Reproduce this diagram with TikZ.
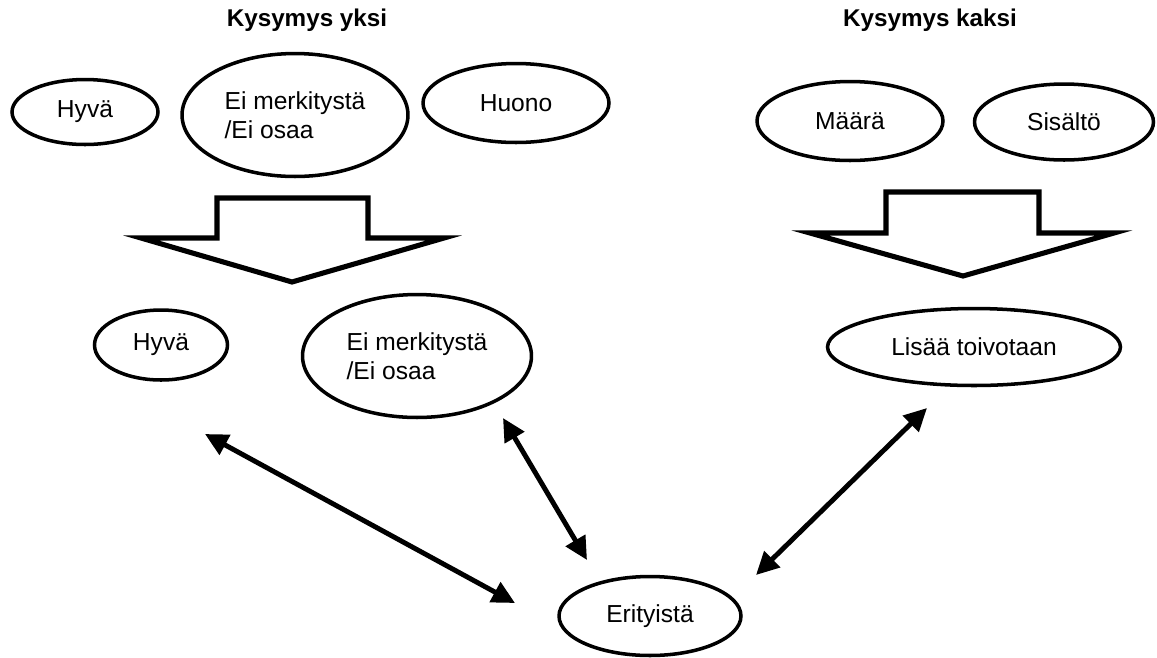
\documentclass[tikz,border=0pt]{standalone}
\usepackage{fontspec}
\setmainfont{Liberation Sans}
\usepackage{tikz}
\usetikzlibrary{shapes.geometric,arrows.meta}

\tikzset{
  answer/.style={ellipse, draw, line width=2pt, inner sep=0pt, align=left,
    font=\fontsize{14}{16.5}\selectfont},
  qtitle/.style={font=\bfseries\fontsize{13.8}{16}\selectfont},
  bigarrow/.style={draw, line width=2.9pt, miter limit=10},
  twoway/.style={line width=2.8pt,
    {Triangle[length=13pt,width=12.5pt]}-{Triangle[length=13pt,width=12.5pt]}},
}

\begin{document}
\begin{tikzpicture}[x=0.02cm, y=-0.02cm]
    \useasboundingbox (0,0) rectangle (1157,657);

    %question titles
    \node[qtitle] (Q1) at (307,20) {Kysymys yksi};
    \node[qtitle] (Q2) at (930,20) {Kysymys kaksi};

    %first answers
    \node[answer, minimum width=2.92cm, minimum height=1.3cm] (Hyva) at (85,112) {Hyvä};
    \node[answer, minimum width=4.52cm, minimum height=2.46cm] (EiM) at (295,115) {Ei merkitystä\\/Ei osaa};
    \node[answer, minimum width=3.72cm, minimum height=1.58cm] (Huono) at (516,103) {Huono};
    \node[answer, minimum width=3.72cm, minimum height=1.58cm] (Maara) at (850,121) {Määrä};
    \node[answer, minimum width=3.58cm, minimum height=1.52cm] (Sisalto) at (1064,122) {Sisältö};

    %block arrows
    \path[bigarrow] (217,198) -- (368,198) -- (368,238) -- (444,238) -- (292,282)
        -- (141,238) -- (217,238) -- cycle;
    \path[bigarrow] (886,192) -- (1039,192) -- (1039,233) -- (1114,233) -- (963,276)
        -- (810,233) -- (886,233) -- cycle;

    %grouped answers
    \node[answer, minimum width=2.66cm, minimum height=1.4cm] (HyvaB) at (161,345) {Hyvä};
    \node[answer, minimum width=4.58cm, minimum height=2.46cm] (EiMB) at (417,356) {Ei merkitystä\\/Ei osaa};
    \node[answer, minimum width=5.86cm, minimum height=1.54cm] (Lisaa) at (974,347) {Lisää toivotaan};
    \node[answer, minimum width=3.64cm, minimum height=1.58cm] (Erit) at (650,616) {Erityistä};

    %arrow ends
    \coordinate (HyvaEnd) at (205,434);
    \coordinate (ErA) at (515,603);
    \coordinate (EiMEnd) at (503,418);
    \coordinate (ErB) at (587,560);
    \coordinate (LisaaEnd) at (927,408);
    \coordinate (ErC) at (756,575);

    \path[draw, twoway] (HyvaEnd) -- (ErA);
    \path[draw, twoway] (EiMEnd) -- (ErB);
    \path[draw, twoway] (LisaaEnd) -- (ErC);
\end{tikzpicture}
\end{document}
